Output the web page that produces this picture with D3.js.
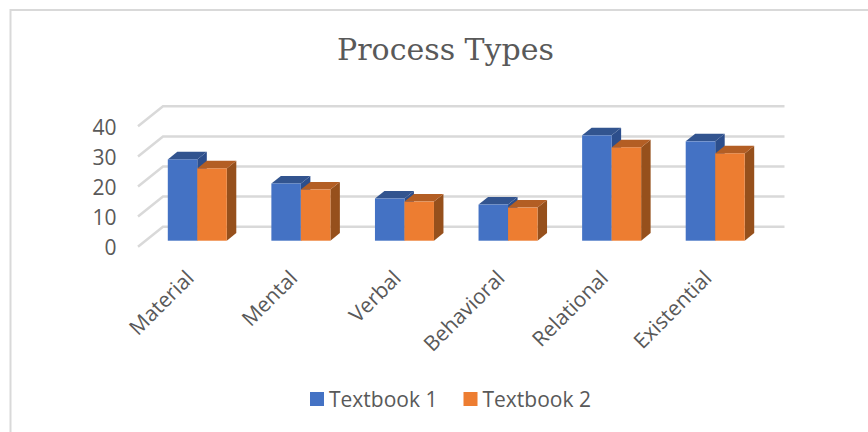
<!DOCTYPE html>
<html>
<head>
<meta charset="utf-8">
<script src="https://cdn.jsdelivr.net/npm/d3@7"></script>
<style>
  html, body { margin: 0; padding: 0; background: #fff; overflow: hidden; }
  svg { display: block; }
  text { font-family: "Open Sans", sans-serif; fill: #595959; }
</style>
</head>
<body>
<div id="chart"></div>
<script>
const categories = ["Material", "Mental", "Verbal", "Behavioral", "Relational", "Existential"];
const textbook1 = [27, 19, 14, 12, 35, 33];
const textbook2 = [24, 17, 13, 11, 31, 29];
const yTicks = [0, 10, 20, 30, 40];
const seriesNames = ["Textbook 1", "Textbook 2"];

const svgWidth = 868;
const svgHeight = 432;

// floor of the 3d box: front edge, and how far the back edge is shifted
const depthX = 25;
const depthY = -20;
const barStart = 0.3; // bars sit 30% into the depth
const barDepth = 0.38;

const colors = [
    { front: "#4472C4", top: "#32548F", side: "#2C4E8C" },
    { front: "#ED7D31", top: "#B35E24", side: "#96501C" }
];

const svg = d3.select("#chart")
    .append("svg")
    .attr("width", svgWidth)
    .attr("height", svgHeight);

// outer frame
svg.append("path")
    .attr("d", `M${svgWidth},10H10.5V${svgHeight}`)
    .attr("fill", "none")
    .attr("stroke", "#d9d9d9")
    .attr("stroke-width", 2);

svg.append("text")
    .attr("x", 445.5)
    .attr("y", 60)
    .attr("text-anchor", "middle")
    .attr("font-size", "30px")
    .style("font-family", "'DejaVu Serif', serif")
    .text("Process Types");

const xScale = d3.scaleBand()
    .domain(categories)
    .range([138, 759.5]);

const yScale = d3.scaleLinear()
    .domain([0, 40])
    .range([246.7, 126.3]);

const xBars = d3.scaleBand()
    .domain(seriesNames)
    .range([0, 59]);

// gridlines: one slanted part on the side wall, one straight part on the back wall
const grid = svg.append("g");
yTicks.forEach(t => {
    const y = yScale(t);
    grid.append("path")
        .attr("d", `M${xScale.range()[0]},${y}L${xScale.range()[0] + depthX},${y + depthY}H${xScale.range()[1] + depthX}`)
        .attr("fill", "none")
        .attr("stroke", "#d9d9d9")
        .attr("stroke-width", 2.5);
});

const yAxis = svg.append("g")
    .attr("transform", "translate(123.5,1)")
    .call(d3.axisLeft(yScale).tickValues(yTicks).tickSize(0).tickPadding(7));
yAxis.select(".domain").remove();
yAxis.selectAll("text")
    .attr("font-size", "21px")
    .style("font-family", "'Open Sans', sans-serif");

const offX = depthX * barStart;
const offY = depthY * barStart;
const dx = depthX * barDepth;
const dy = depthY * barDepth;

[textbook1, textbook2].forEach((values, s) => {
    const g = svg.append("g");
    const c = colors[s];
    values.forEach((v, i) => {
        const x0 = xScale(categories[i]) + (xScale.bandwidth() - 59) / 2 + xBars(seriesNames[s]) + offX;
        const x1 = x0 + xBars.bandwidth();
        const yTop = yScale(v) + offY;
        const yBase = yScale(0) + offY;
        g.append("path")
            .attr("d", `M${x1},${yTop}L${x1 + dx},${yTop + dy}V${yBase + dy}L${x1},${yBase}Z`)
            .attr("fill", c.side);
        g.append("path")
            .attr("d", `M${x0},${yTop}L${x0 + dx},${yTop + dy}H${x1 + dx}L${x1},${yTop}Z`)
            .attr("fill", c.top);
        g.append("rect")
            .attr("x", x0)
            .attr("y", yTop)
            .attr("width", x1 - x0)
            .attr("height", yBase - yTop)
            .attr("fill", c.front);
    });
});

const xAxis = svg.append("g")
    .attr("transform", "translate(-5,269)")
    .call(d3.axisBottom(xScale).tickSize(0).tickPadding(0));
xAxis.select(".domain").remove();
xAxis.selectAll("text")
    .attr("font-size", "21px")
    .style("font-family", "'Open Sans', sans-serif")
    .attr("text-anchor", "end")
    .attr("dy", "0.7em")
    .attr("transform", "rotate(-45)");

// legend
const legendX = [310, 463.5];
seriesNames.forEach((name, i) => {
    svg.append("rect")
        .attr("x", legendX[i])
        .attr("y", 392)
        .attr("width", 14)
        .attr("height", 14)
        .attr("fill", colors[i].front);
    svg.append("text")
        .attr("x", legendX[i] + 19)
        .attr("y", 407)
        .attr("font-size", "21px")
        .text(name);
});
</script>
</body>
</html>
